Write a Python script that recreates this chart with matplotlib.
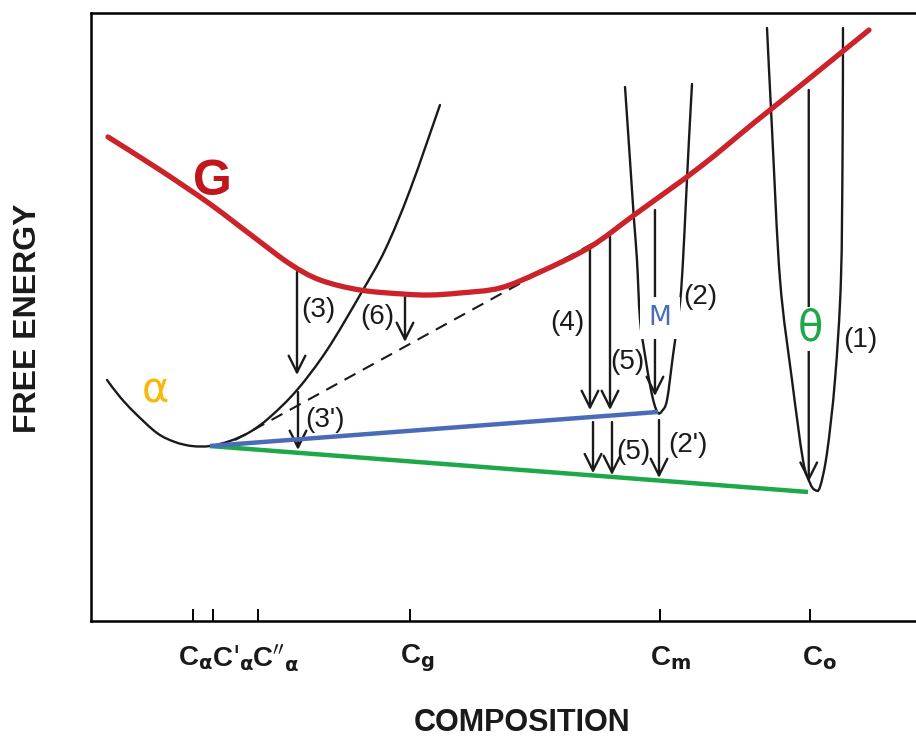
import matplotlib
matplotlib.use("Agg")
import matplotlib.pyplot as plt
from matplotlib.path import Path
from matplotlib.patches import PathPatch

plt.rcParams['font.family'] = ['Liberation Sans Narrow', 'DejaVu Sans Condensed',
                               'Liberation Sans', 'DejaVu Sans']
plt.rcParams['mathtext.fontset'] = 'dejavusans'

# ---- free-energy curves (composition, free energy), arbitrary units 0..100 ----
alpha_x = [1.94, 3.52, 5.33, 8.00, 10.18, 12.24, 14.42, 16.85, 19.27, 21.70,
           24.97, 28.61, 32.61, 35.64, 38.67, 42.30]
alpha_g = [39.64, 36.84, 34.21, 30.92, 29.44, 28.78, 28.78, 29.61, 31.09, 33.55,
           37.99, 44.57, 53.62, 61.02, 70.89, 84.87]

glass_x = [2.06, 8.36, 14.42, 19.88, 24.12, 27.76, 32.61, 37.82, 41.09,
           44.73, 49.58, 54.42, 60.48, 66.18, 73.82, 80.48, 85.94, 94.30]
glass_g = [79.61, 74.18, 68.59, 62.99, 58.72, 56.09, 54.44, 53.78, 53.62,
           53.95, 54.77, 57.40, 61.51, 67.11, 74.67, 82.07, 87.99, 97.20]

m_x = [64.73, 65.33, 65.82, 66.18, 66.55, 67.15, 67.76, 68.24, 68.73, 69.21,
       69.82, 70.55, 71.39, 71.76, 72.12, 72.48, 72.85]
m_g = [87.83, 75.82, 65.95, 59.38, 49.51, 43.75, 38.82, 35.86, 34.21, 34.54,
       36.35, 43.75, 52.30, 59.38, 69.24, 79.11, 88.32]

theta_x = [81.94, 82.55, 83.52, 84.97, 86.30, 87.15, 87.76, 88.36, 89.21, 90.18,
           90.90, 91.10, 91.15]
theta_g = [97.53, 80.76, 56.09, 39.64, 26.48, 22.70, 21.55, 22.04, 27.63, 39.64,
           56.09, 77.47, 97.53]

# common tangents
tangent_alpha_m_x = [14.42, 68.73]
tangent_alpha_m_g = [28.78, 34.38]
tangent_alpha_theta_x = [14.42, 86.91]
tangent_alpha_theta_g = [28.78, 21.22]
tangent_alpha_glass_x = [17.45, 62.91]
tangent_alpha_glass_g = [29.77, 63.65]

# reaction paths: (composition, start energy, end energy, label, label x, label y)
paths = [
    (24.97, 57.40, 40.46, "(3)", 27.52, 51.15),
    (25.09, 37.66, 28.13, "(3')", 28.36, 33.06),
    (38.06, 53.29, 45.89, "(6)", 34.67, 50.00),
    (60.48, 61.35, 34.70, "(4)", 57.70, 49.01),
    (62.91, 63.16, 34.70, "(5)", 64.97, 42.60),
    (60.85, 32.73, 24.30, "", 0, 0),
    (63.15, 32.73, 24.00, "(5)", 65.70, 27.80),
    (68.36, 67.60, 37.00, "(2)", 73.82, 53.29),
    (68.85, 33.06, 23.52, "(2')", 72.36, 28.95),
    (87.00, 87.34, 22.90, "(1)", 93.21, 46.22),
]

# composition markers
tick_pos = [12.36, 14.79, 20.24, 38.67, 68.97, 87.15]
tick_text_x = [10.55, 14.67, 19.52, 37.45, 67.76, 86.18]
tick_text = [r"C$_{\mathbf{\alpha}}$", r"C$'_{\mathbf{\alpha}}$", r"C$''_{\mathbf{\alpha}}$",
             r"C$_{\mathbf{g}}$", r"C$_{\mathbf{m}}$", r"C$_{\mathbf{o}}$"]


def smooth_path(xs, ys):
    """Catmull-Rom curve through the given points, as cubic Bezier segments."""
    pts = list(zip(xs, ys))
    verts = [pts[0]]
    codes = [Path.MOVETO]
    n = len(pts)
    for i in range(n - 1):
        p0 = pts[i - 1] if i > 0 else pts[i]
        p1, p2 = pts[i], pts[i + 1]
        p3 = pts[i + 2] if i + 2 < n else pts[i + 1]
        c1 = (p1[0] + (p2[0] - p0[0]) / 6, p1[1] + (p2[1] - p0[1]) / 6)
        c2 = (p2[0] - (p3[0] - p1[0]) / 6, p2[1] - (p3[1] - p1[1]) / 6)
        verts += [c1, c2, p2]
        codes += [Path.CURVE4] * 3
    return Path(verts, codes)


fig = plt.figure(figsize=(9.16, 7.44), dpi=100)
ax = fig.add_axes([91 / 916, 123 / 744, 825 / 916, 608 / 744])
ax.set_xlim(0, 100)
ax.set_ylim(0, 100)
for side in ("left", "top", "bottom"):
    ax.spines[side].set_linewidth(1.8)
ax.spines["right"].set_visible(False)
ax.set_yticks([])
ax.set_xticks(tick_pos)
ax.tick_params(axis="x", direction="in", length=9, width=1.4, labelbottom=False)

ink = "#1a1a1a"
for xs, ys in ((alpha_x, alpha_g), (m_x, m_g), (theta_x, theta_g)):
    ax.add_patch(PathPatch(smooth_path(xs, ys), fill=False, edgecolor=ink,
                           lw=1.7, zorder=2, capstyle="round"))
ax.plot(tangent_alpha_glass_x, tangent_alpha_glass_g, color=ink, lw=1.5,
        dashes=(6, 4), zorder=2)

for x, y0, y1, lab, lx, ly in paths:
    ax.annotate("", xy=(x, y1), xytext=(x, y0),
                arrowprops=dict(arrowstyle="->,head_length=0.6,head_width=0.3",
                                lw=1.7, color=ink, shrinkA=0, shrinkB=0,
                                mutation_scale=20), zorder=3)
    if lab:
        ax.text(lx, ly, lab, fontsize=20, ha="center", va="center", color=ink)

ax.plot(tangent_alpha_theta_x, tangent_alpha_theta_g, color="#1ea84a", lw=3.2,
        zorder=4, solid_capstyle="butt")
ax.plot(tangent_alpha_m_x, tangent_alpha_m_g, color="#4a6cb8", lw=3.2,
        zorder=4, solid_capstyle="butt")
ax.add_patch(PathPatch(smooth_path(glass_x, glass_g), fill=False,
                       edgecolor="#cc2229", lw=3.8, zorder=5, capstyle="round"))

ax.text(14.67, 72.2, "G", fontsize=36, fontweight="bold", color="#c0161c",
        ha="center", va="center", family=["Liberation Sans", "DejaVu Sans"])
ax.text(7.76, 37.99, "α", fontsize=30, color="#f6b80c", ha="center", va="center",
        family=["DejaVu Sans"])
ax.text(68.97, 49.84, "M", fontsize=19, color="#4a6cb8", ha="center", va="center",
        family=["DejaVu Sans"], zorder=6,
        bbox=dict(facecolor="white", edgecolor="none", pad=6))
ax.text(87.15, 48.03, "θ", fontsize=30, color="#1ea84a", ha="center", va="center",
        family=["DejaVu Sans"], zorder=6,
        bbox=dict(facecolor="white", edgecolor="none", pad=1))

for x, lab in zip(tick_text_x, tick_text):
    ax.text(x, -6.1, lab, fontsize=20, fontweight="bold", ha="left", va="center",
            color=ink)

fig.text(522 / 916, 1 - 723 / 744, "COMPOSITION", fontsize=22, fontweight="bold",
         ha="center", va="center", color=ink)
fig.text(28 / 916, 1 - 318 / 744, "FREE ENERGY", fontsize=23, fontweight="bold",
         rotation=90, ha="center", va="center", color=ink)

fig.savefig("out.png", dpi=100, facecolor="white")
